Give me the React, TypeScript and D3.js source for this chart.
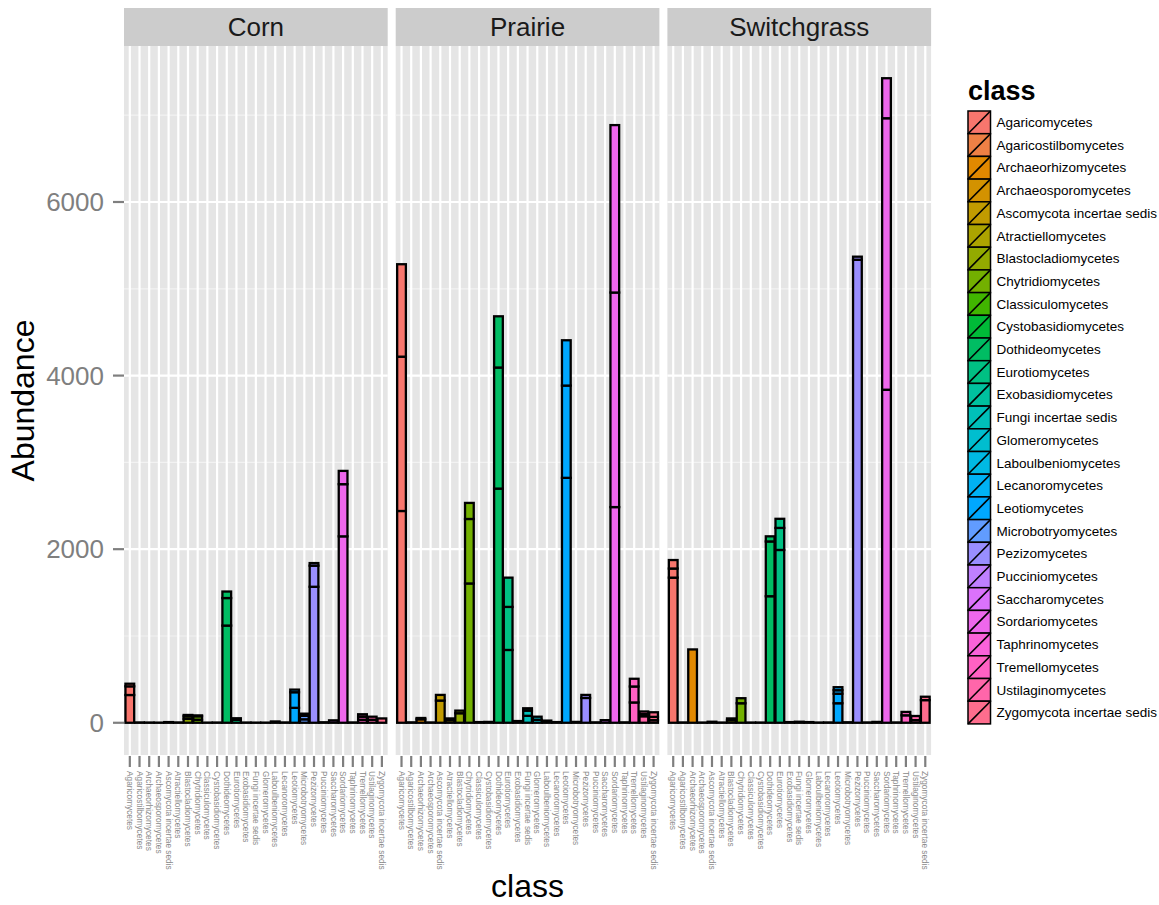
import React from "react";
import * as d3 from "d3";

const classes: string[] = [
  "Agaricomycetes", "Agaricostilbomycetes", "Archaeorhizomycetes", "Archaeosporomycetes",
  "Ascomycota incertae sedis", "Atractiellomycetes", "Blastocladiomycetes", "Chytridiomycetes",
  "Classiculomycetes", "Cystobasidiomycetes", "Dothideomycetes", "Eurotiomycetes",
  "Exobasidiomycetes", "Fungi incertae sedis", "Glomeromycetes", "Laboulbeniomycetes",
  "Lecanoromycetes", "Leotiomycetes", "Microbotryomycetes", "Pezizomycetes",
  "Pucciniomycetes", "Saccharomycetes", "Sordariomycetes", "Taphrinomycetes",
  "Tremellomycetes", "Ustilaginomycetes", "Zygomycota incertae sedis",
];

const facets: string[] = ["Corn", "Prairie", "Switchgrass"];

// stacked sample abundances per class (bottom to top)
const cornValues: number[][] = [
  [320, 100, 30], [4], [3], [2], [8], [4], [45, 30, 15], [35, 40, 10], [2], [3],
  [1120, 317, 75], [35, 17], [3], [2], [2], [15], [4], [172, 180, 30], [40, 40, 25],
  [1567, 243, 30], [6], [28], [2148, 601, 153], [4], [35, 35, 28], [35, 35], [50],
];

const prairieValues: number[][] = [
  [2440, 1778, 1065], [5], [40, 15], [4], [256, 65], [30, 20], [110, 30], [1605, 743, 185], [8], [10],
  [2698, 1395, 590], [839, 496, 337], [20], [80, 60, 27], [35, 35], [25], [8], [2822, 1063, 522], [10],
  [286, 35], [5], [30], [2485, 2472, 1929], [5], [234, 184, 89], [75, 25, 30], [30, 38, 53],
];

const switchgrassValues: number[][] = [
  [1672, 105, 98], [4], [845], [3], [12], [3], [30, 20], [225, 58], [3], [3],
  [1458, 631, 59], [1991, 254, 105], [8], [12], [8], [3], [4], [225, 110, 40, 35], [6],
  [5335, 35], [4], [10], [3837, 3128, 461], [4], [86, 39], [30, 48], [261, 39],
];

const facetValues: number[][][] = [cornValues, prairieValues, switchgrassValues];

const yMajorTicks: number[] = [0, 2000, 4000, 6000];
const yMinorTicks: number[] = [1000, 3000, 5000, 7000];

// R's hcl() (polar CIE-Luv) to sRGB
function hclR(h: number, c: number, l: number): string {
  const WX = 95.047, WY = 100.0, WZ = 108.883;
  const Wu = (4 * WX) / (WX + 15 * WY + 3 * WZ);
  const Wv = (9 * WY) / (WX + 15 * WY + 3 * WZ);
  const hr = (h * Math.PI) / 180;
  const L = l, U = c * Math.cos(hr), V = c * Math.sin(hr);
  const Y = WY * (L > 7.999592 ? Math.pow((L + 16) / 116, 3) : L / 903.3);
  const u = U / (13 * L) + Wu;
  const v = V / (13 * L) + Wv;
  const X = (9.0 * Y * u) / (4 * v);
  const Z = -X / 3 - 5 * Y + (3 * Y) / v;
  const g = (t: number) => (t > 0.00304 ? 1.055 * Math.pow(t, 1 / 2.4) - 0.055 : 12.92 * t);
  const cl = (t: number) => Math.max(0, Math.min(255, Math.round(255 * g(t))));
  const R = cl((3.240479 * X - 1.53715 * Y - 0.498535 * Z) / WY);
  const G = cl((-0.969256 * X + 1.875992 * Y + 0.041556 * Z) / WY);
  const B = cl((0.055648 * X - 0.204043 * Y + 1.057311 * Z) / WY);
  return d3.rgb(R, G, B).formatHex();
}

const palette: string[] = classes.map((_, i) => hclR(15 + (i * 360) / classes.length, 100, 65));

const FONT = "'Liberation Sans', Arial, Helvetica, sans-serif";

export default function App() {
  const W = 1159, H = 905;
  const panelLeft = 124, panelW = 263.7, gap = 8;
  const stripTop = 8, panelTop = 46, panelBottom = 755;
  const maxTotal = d3.max(facetValues.flat().map((s) => d3.sum(s))) as number;
  const pad = maxTotal * 0.05;
  const y = d3.scaleLinear().domain([-pad, maxTotal + pad]).range([panelBottom, panelTop]);
  const x = d3.scaleBand<string>().domain(classes).range([0, panelW]).paddingInner(0.1).paddingOuter(0.15);
  const bw = x.bandwidth();

  const legendX = 968, legendTop = 111, keyH = 22.7, keyW = 22.5;

  return (
    <svg width={W} height={H} style={{ position: "absolute", left: 0, top: 0, display: "block", background: "#fff" }} fontFamily={FONT}>
      {facets.map((f, fi) => {
        const px = panelLeft + fi * (panelW + gap);
        const vals = facetValues[fi];
        return (
          <g key={f} transform={`translate(${px},0)`}>
            {/* strip */}
            <rect x={0} y={stripTop} width={panelW} height={panelTop - stripTop} fill="#CCCCCC" />
            <text x={panelW / 2} y={(stripTop + panelTop) / 2} dy="0.35em" textAnchor="middle" fontSize={26} fill="#1A1A1A">{f}</text>
            {/* panel */}
            <rect x={0} y={panelTop} width={panelW} height={panelBottom - panelTop} fill="#E5E5E5" />
            {yMinorTicks.map((t) => (
              <line key={"mn" + t} x1={0} x2={panelW} y1={y(t)} y2={y(t)} stroke="#F2F2F2" strokeWidth={1.2} />
            ))}
            {yMajorTicks.map((t) => (
              <line key={"mj" + t} x1={0} x2={panelW} y1={y(t)} y2={y(t)} stroke="#FFFFFF" strokeWidth={2.2} />
            ))}
            {classes.map((c) => {
              const cx = (x(c) as number) + bw / 2;
              return <line key={"vg" + c} x1={cx} x2={cx} y1={panelTop} y2={panelBottom} stroke="#FFFFFF" strokeWidth={2.2} />;
            })}
            {/* bars */}
            {classes.map((c, ci) => {
              const segs = vals[ci];
              let acc = 0;
              return (
                <g key={"b" + c}>
                  {segs.map((v, si) => {
                    const y0 = acc, y1 = acc + v;
                    acc = y1;
                    return (
                      <rect key={si} x={x(c) as number} width={bw} y={y(y1)} height={Math.max(0, y(y0) - y(y1))}
                        fill={palette[ci]} stroke="#000" strokeWidth={2.3} />
                    );
                  })}
                </g>
              );
            })}
            {/* x ticks + labels */}
            {classes.map((c) => {
              const cx = (x(c) as number) + bw / 2;
              return (
                <g key={"xt" + c}>
                  <line x1={cx} x2={cx} y1={panelBottom + 1} y2={panelBottom + 12} stroke="#7F7F7F" strokeWidth={2.2} />
                  <text transform={`translate(${cx},${panelBottom + 16}) rotate(90)`} dy="0.35em" fontSize={8.3} fill="#8A8A8A">{c}</text>
                </g>
              );
            })}
          </g>
        );
      })}
      {/* y axis */}
      {yMajorTicks.map((t) => (
        <g key={"yt" + t}>
          <line x1={panelLeft - 11} x2={panelLeft} y1={y(t)} y2={y(t)} stroke="#7F7F7F" strokeWidth={2.2} />
          <text x={panelLeft - 20} y={y(t)} dy="0.35em" textAnchor="end" fontSize={26} fill="#7F7F7F">{t}</text>
        </g>
      ))}
      <text transform={`translate(34,${(panelTop + panelBottom) / 2}) rotate(-90)`} textAnchor="middle" fontSize={32} fill="#000">Abundance</text>
      <text x={panelLeft + (3 * panelW + 2 * gap) / 2} y={897} textAnchor="middle" fontSize={32} fill="#000">class</text>
      {/* legend */}
      <text x={legendX} y={100} fontSize={27} fontWeight="bold" fill="#000">class</text>
      {classes.map((c, i) => {
        const ky = legendTop + i * keyH;
        return (
          <g key={"lg" + c}>
            <rect x={legendX} y={ky} width={keyW} height={keyH} fill={palette[i]} stroke="#000" strokeWidth={1.5} />
            <line x1={legendX} y1={ky + keyH} x2={legendX + keyW} y2={ky} stroke="#000" strokeWidth={1.6} />
            <text x={legendX + keyW + 6} y={ky + keyH / 2} dy="0.35em" fontSize={13.5} fill="#000">{c}</text>
          </g>
        );
      })}
    </svg>
  );
}
